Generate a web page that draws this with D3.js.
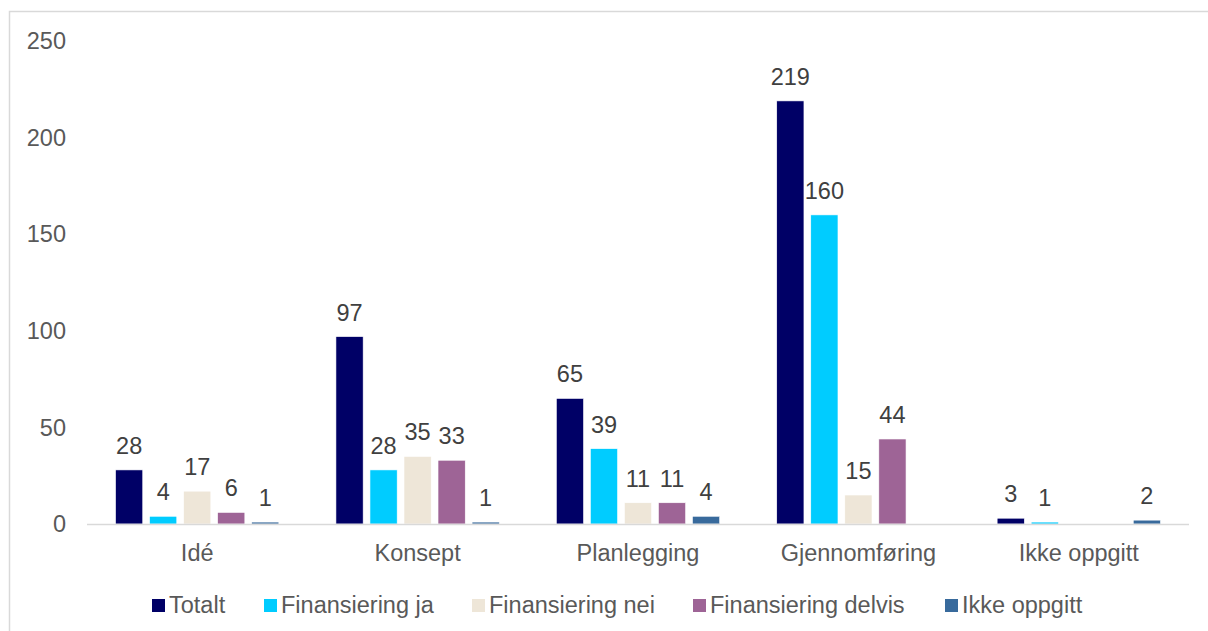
<!DOCTYPE html>
<html>
<head>
<meta charset="utf-8">
<script src="https://cdn.jsdelivr.net/npm/d3@7"></script>
<style>
  body { margin: 0; background: #fff; }
  svg { display: block; font-family: "Liberation Sans", Arial, sans-serif; }
</style>
</head>
<body>
<svg></svg>
<script>
// data
const categories = ['Idé', 'Konsept', 'Planlegging', 'Gjennomføring', 'Ikke oppgitt'];
const seriesNames = ['Totalt', 'Finansiering ja', 'Finansiering nei', 'Finansiering delvis', 'Ikke oppgitt'];
const totalt = [28, 97, 65, 219, 3];
const finJa = [4, 28, 39, 160, 1];
const finNei = [17, 35, 11, 15, 0];
const finDelvis = [6, 33, 11, 44, 0];
const ikkeOppgitt = [1, 1, 4, 0, 2];
const yTicks = [0, 50, 100, 150, 200, 250];

const colors = ['#000066', '#00ccff', '#eee6d8', '#9e6496', '#386a9c'];
const seriesValues = [totalt, finJa, finNei, finDelvis, ikkeOppgitt];

const size = {w: 1208, h: 631};
const plot = {l: 87, r: 1189, t: 41, b: 524};
const fontSize = 23.5;

const svg = d3.select('svg')
    .attr('width', size.w)
    .attr('height', size.h);

// outer frame (only top and left are visible in the window)
svg.append('rect')
    .attr('x', 9.5).attr('y', 11.5)
    .attr('width', 1300).attr('height', 700)
    .attr('fill', 'none')
    .attr('stroke', '#d9d9d9')
    .attr('stroke-width', 1.5);

const x0 = d3.scaleBand()
    .domain(categories)
    .range([plot.l, plot.r]);

const groupW = x0.bandwidth() * 0.772;
const x1 = d3.scaleBand()
    .domain(seriesNames)
    .range([0, groupW])
    .paddingInner(0.2)
    .paddingOuter(0.1);

const y = d3.scaleLinear()
    .domain([0, 250])
    .range([plot.b, plot.t]);

// y labels (no axis line, no gridlines)
svg.append('g')
    .selectAll('text')
    .data(yTicks)
    .join('text')
    .attr('x', 66)
    .attr('y', d => y(d))
    .attr('dy', '0.35em')
    .attr('text-anchor', 'end')
    .attr('fill', '#595959')
    .attr('font-size', fontSize)
    .text(d => d);

// bars
const rows = categories.map((c, i) => ({
    cat: c,
    vals: seriesNames.map((s, j) => ({series: s, j: j, v: seriesValues[j][i]}))
}));

const groups = svg.append('g')
    .selectAll('g')
    .data(rows)
    .join('g')
    .attr('transform', d => `translate(${x0(d.cat) + (x0.bandwidth() - groupW) / 2},0)`);

groups.selectAll('rect')
    .data(d => d.vals)
    .join('rect')
    .attr('x', d => x1(d.series))
    .attr('y', d => y(d.v))
    .attr('width', x1.bandwidth())
    .attr('height', d => y(0) - y(d.v))
    .attr('fill', d => colors[d.j])
    .attr('stroke', '#fff')
    .attr('stroke-width', 0.6);

groups.selectAll('text')
    .data(d => d.vals.filter(e => e.v > 0))
    .join('text')
    .attr('x', d => x1(d.series) + x1.bandwidth() / 2)
    .attr('y', d => y(d.v) - 16)
    .attr('text-anchor', 'middle')
    .attr('fill', '#404040')
    .attr('font-size', fontSize)
    .text(d => d.v);

// x axis line
svg.append('line')
    .attr('x1', plot.l).attr('x2', plot.r)
    .attr('y1', plot.b + 0.5).attr('y2', plot.b + 0.5)
    .attr('stroke', '#d9d9d9')
    .attr('stroke-width', 1.5);

// category labels
svg.append('g')
    .selectAll('text')
    .data(categories)
    .join('text')
    .attr('x', d => x0(d) + x0.bandwidth() / 2)
    .attr('y', 561)
    .attr('text-anchor', 'middle')
    .attr('fill', '#595959')
    .attr('font-size', fontSize)
    .text(d => d);

// legend
const legendX = [152, 264, 472, 693, 945];
const legend = svg.append('g')
    .selectAll('g')
    .data(seriesNames)
    .join('g')
    .attr('transform', (d, i) => `translate(${legendX[i]},599)`);

legend.append('rect')
    .attr('width', 13).attr('height', 13)
    .attr('fill', (d, i) => colors[i]);

legend.append('text')
    .attr('x', 17)
    .attr('y', 14)
    .attr('fill', '#595959')
    .attr('font-size', fontSize)
    .text(d => d);
</script>
</body>
</html>
